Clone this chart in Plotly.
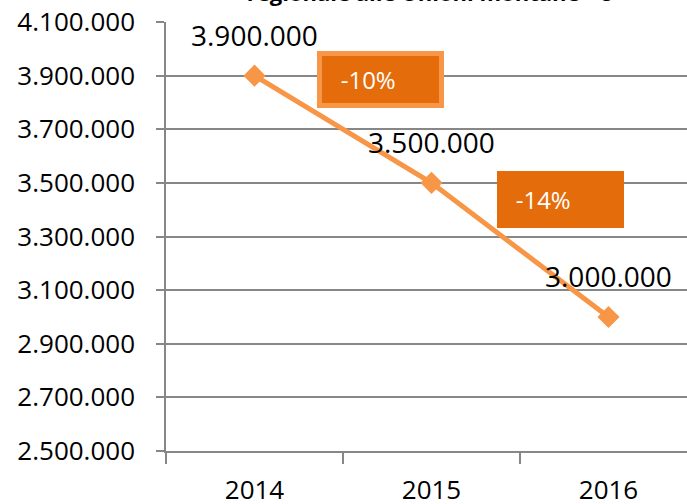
import plotly.graph_objects as go

years = ["2014", "2015", "2016"]
values = [3900000, 3500000, 3000000]
value_labels = ["3.900.000", "3.500.000", "3.000.000"]
change_labels = ["-10%", "-14%"]
change_x = [0.71, 1.73]
change_y = [3885000, 3437000]
y_ticks = [2500000, 2700000, 2900000, 3100000, 3300000, 3500000, 3700000, 3900000, 4100000]
y_tick_labels = ["2.500.000", "2.700.000", "2.900.000", "3.100.000", "3.300.000",
                 "3.500.000", "3.700.000", "3.900.000", "4.100.000"]
title_text = "regionale alle Unioni montane - €"

FONT = "Open Sans"
LINE = "#F79646"
BOX = "#E46C0A"
GRID = "#878787"

fig = go.Figure()
fig.add_trace(go.Scatter(
    x=years, y=values, mode="lines+markers",
    line=dict(color=LINE, width=5),
    marker=dict(symbol="diamond", size=17, color=LINE),
    hoverinfo="skip", showlegend=False,
))

for i, (y, t) in enumerate(zip(values, value_labels)):
    fig.add_annotation(x=i, y=y, text=t, showarrow=False, yshift=41,
                       font=dict(family=FONT, size=28, color="black"))

for i, (x, y, t) in enumerate(zip(change_x, change_y, change_labels)):
    if i == 0:
        bw, w, h, bc = 5, 117, 47, LINE
    else:
        bw, w, h, bc = 0, 127, 57, BOX
    fig.add_annotation(x=x, y=y, text="&nbsp;&nbsp;&nbsp;" + t, showarrow=False,
                       bgcolor=BOX, bordercolor=bc, borderwidth=bw, borderpad=0,
                       width=w, height=h, align="left", valign="middle",
                       font=dict(family=FONT, size=24, color="white"))

fig.update_layout(
    width=687, height=504,
    margin=dict(l=166, r=0, t=22, b=53),
    paper_bgcolor="white", plot_bgcolor="white",
    font=dict(family=FONT, color="black"),
    title=dict(text="<b>" + title_text + "</b>", x=0.624, xanchor="center",
               y=0.998, yanchor="bottom", yref="container",
               font=dict(family=FONT, size=22, color="black")),
    xaxis=dict(type="category", range=[-0.5, 2.4435], showgrid=False, automargin=False,
               showline=True, linecolor=GRID, linewidth=1.5,
               ticks="outside", tickson="boundaries", ticklen=11, tickcolor=GRID, tickwidth=1.5,
               ticklabelstandoff=15,
               tickfont=dict(family=FONT, size=26, color="black"), fixedrange=True),
    yaxis=dict(range=[2500000, 4100000], tickvals=y_ticks, ticktext=y_tick_labels,
               automargin=False,
               showgrid=True, gridcolor=GRID, gridwidth=1.5,
               showline=True, linecolor=GRID, linewidth=1.5,
               ticks="outside", ticklen=8, tickcolor=GRID, tickwidth=1.5,
               ticklabelstandoff=16, zeroline=False,
               tickfont=dict(family=FONT, size=26, color="black"), fixedrange=True),
)

fig.write_html("out.html", config={"displayModeBar": False},
               post_script="document.body.style.margin='0';document.body.style.overflow='hidden';")
